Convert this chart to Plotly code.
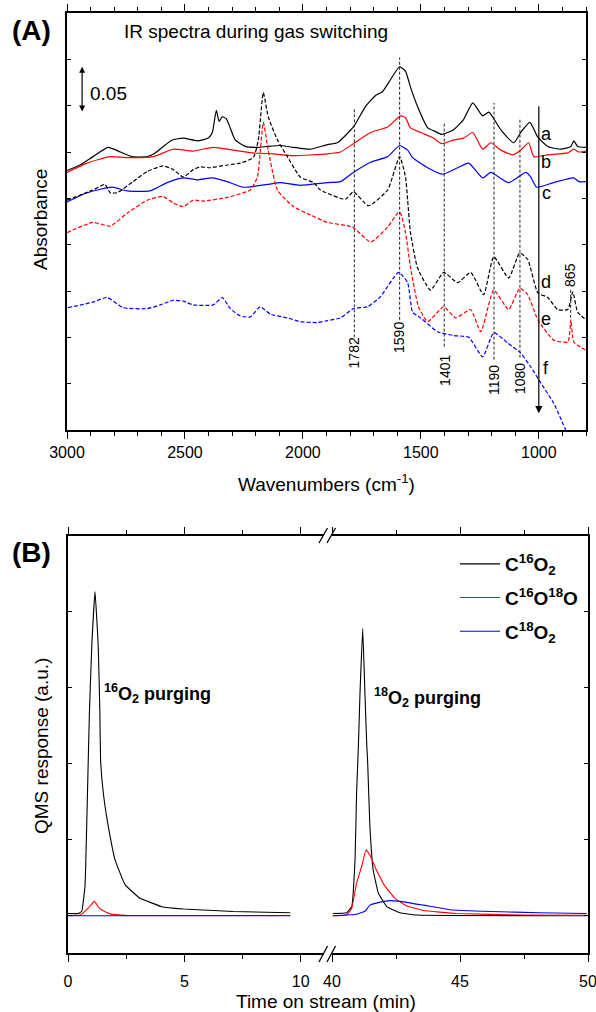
import plotly.graph_objects as go

# ---------------- Panel A data: IR spectra (wavenumber cm-1, absorbance, offset) ----------------
SPEC_A = [(3000,0.280),(2945,0.286),(2890,0.295),(2826,0.305),(2783,0.301),(2724,0.295),(2660,0.295),
          (2626,0.299),(2592,0.306),(2554,0.313),(2507,0.315),(2448,0.312),(2401,0.315),(2384,0.321),
          (2367,0.345),(2355,0.333),(2342,0.338),(2325,0.336),(2308,0.326),(2287,0.313),(2244,0.306),
          (2193,0.305),(2151,0.306),(2096,0.307),(2040,0.305),(1968,0.303),(1896,0.308),(1854,0.310),
          (1786,0.327),(1735,0.349),(1692,0.361),(1663,0.365),(1629,0.378),(1590,0.392),(1565,0.387),
          (1544,0.370),(1514,0.349),(1471,0.326),(1437,0.322),(1412,0.319),(1361,0.324),(1319,0.335),
          (1280,0.353),(1238,0.339),(1212,0.343),(1161,0.324),(1106,0.310),(1077,0.321),(1038,0.332),
          (1004,0.316),(962,0.306),(907,0.303),(864,0.306),(852,0.312),(835,0.306),(800,0.305)]
SPEC_B = [(3000,0.278),(2915,0.288),(2817,0.295),(2745,0.294),(2635,0.295),(2550,0.303),(2465,0.301),
          (2380,0.305),(2295,0.302),(2210,0.299),(2125,0.298),(2040,0.296),(1896,0.298),(1841,0.300),
          (1786,0.309),(1713,0.321),(1641,0.327),(1586,0.339),(1565,0.337),(1544,0.326),(1501,0.321),
          (1446,0.315),(1412,0.309),(1361,0.313),(1319,0.315),(1280,0.321),(1238,0.303),(1204,0.310),
          (1161,0.302),(1111,0.297),(1077,0.302),(1043,0.310),(1021,0.295),(962,0.297),(877,0.299),
          (852,0.303),(830,0.300),(800,0.301)]
SPEC_C = [(3000,0.246),(2915,0.256),(2809,0.262),(2745,0.258),(2648,0.258),(2575,0.267),(2507,0.272),
          (2448,0.270),(2384,0.272),(2321,0.268),(2253,0.262),(2151,0.265),(2096,0.267),(2011,0.264),
          (1896,0.267),(1841,0.268),(1786,0.278),(1713,0.289),(1641,0.295),(1590,0.307),(1556,0.302),
          (1535,0.294),(1471,0.283),(1408,0.276),(1344,0.283),(1297,0.288),(1238,0.272),(1204,0.278),
          (1128,0.267),(1055,0.278),(1034,0.273),(1009,0.262),(937,0.267),(852,0.272),(830,0.268),
          (800,0.268)]
SPEC_D = [(3000,0.248),(2890,0.259),(2839,0.265),(2817,0.256),(2788,0.256),(2720,0.268),(2660,0.279),
          (2592,0.285),(2550,0.281),(2507,0.273),(2465,0.281),(2435,0.284),(2393,0.283),(2321,0.286),
          (2265,0.288),(2210,0.294),(2189,0.313),(2168,0.364),(2147,0.338),(2108,0.313),(2066,0.295),
          (2011,0.273),(1955,0.267),(1926,0.259),(1820,0.249),(1786,0.257),(1722,0.242),(1641,0.259),
          (1590,0.295),(1565,0.273),(1556,0.248),(1544,0.213),(1514,0.175),(1459,0.151),(1403,0.170),
          (1344,0.159),(1289,0.170),(1234,0.146),(1191,0.187),(1128,0.164),(1081,0.191),(1047,0.184),
          (1004,0.148),(962,0.143),(920,0.130),(877,0.130),(856,0.149),(835,0.127),(800,0.119)]
SPEC_E = [(3000,0.213),(2890,0.224),(2817,0.220),(2745,0.234),(2660,0.248),(2592,0.252),(2550,0.245),
          (2507,0.241),(2465,0.248),(2423,0.247),(2321,0.251),(2223,0.259),(2193,0.273),(2168,0.332),
          (2147,0.302),(2108,0.259),(2040,0.241),(1968,0.232),(1896,0.224),(1790,0.219),(1713,0.203),
          (1641,0.219),(1595,0.235),(1586,0.234),(1565,0.213),(1544,0.176),(1510,0.133),(1471,0.117),
          (1403,0.133),(1353,0.121),(1289,0.130),(1246,0.106),(1191,0.151),(1128,0.130),(1081,0.153),
          (1047,0.146),(1004,0.119),(937,0.097),(877,0.095),(864,0.119),(852,0.095),(800,0.086)]
SPEC_F = [(2996,0.132),(2890,0.138),(2830,0.143),(2762,0.132),(2660,0.131),(2605,0.135),(2550,0.140),
          (2507,0.139),(2465,0.135),(2380,0.135),(2342,0.143),(2308,0.131),(2265,0.123),(2223,0.122),
          (2181,0.133),(2138,0.125),(2066,0.121),(2011,0.117),(1939,0.116),(1896,0.118),(1841,0.121),
          (1786,0.131),(1726,0.133),(1671,0.144),(1595,0.170),(1556,0.159),(1535,0.127),(1501,0.121),
          (1429,0.106),(1361,0.102),(1297,0.100),(1238,0.079),(1191,0.105),(1132,0.094),(1077,0.083),
          (1034,0.068),(992,0.051),(937,0.029),(886,0.000)]
SPEC_LETTERS = ["a", "b", "c", "d", "e", "f"]
BANDS = [1782, 1590, 1401, 1190, 1080, 865]
BAND_LABELS = ["1782", "1590", "1401", "1190", "1080", "865"]
SCALE_BAR = 0.05

# ---------------- Panel B data: QMS response (time min, a.u.) ----------------
C16O2_RUN1 = [(0,0.03),(0.45,0.03),(0.59,0.06),(0.73,0.39),(0.87,2.05),(0.92,2.67),(1.02,3.54),
              (1.16,4.27),(1.30,3.54),(1.37,2.67),(1.40,2.05),(1.52,1.61),(1.73,1.18),(2.02,0.74),
              (2.45,0.41),(3.09,0.23),(3.59,0.17),(4.02,0.12),(4.95,0.09),(7.1,0.056),(9.55,0.04)]
C16O18O_RUN1 = [(0,0.003),(0.53,0.01),(0.87,0.10),(1.13,0.19),(1.37,0.09),(1.8,0.025),(2.5,0.005),
                (9.55,0.003)]
C18O2_RUN1 = [(0,0.0),(2.5,0.0),(5.0,0.0),(9.55,0.0)]
C16O2_RUN2 = [(40.03,0.03),(40.57,0.04),(40.77,0.12),(40.9,0.74),(40.96,1.61),(41.03,2.23),(41.09,2.89),
              (41.2,3.78),(41.29,2.89),(41.36,2.23),(41.39,2.05),(41.48,1.18),(41.61,0.6),(41.81,0.3),
              (42.14,0.12),(42.66,0.04),(43.3,0.01),(49.95,0.0)]
C16O18O_RUN2 = [(40.03,0.0),(40.57,0.01),(40.77,0.10),(40.96,0.43),(41.16,0.65),(41.33,0.87),(41.48,0.80),
                (41.74,0.60),(42.07,0.39),(42.46,0.23),(42.92,0.13),(43.57,0.07),(44.87,0.03),(47.5,0.01),
                (49.95,0.005)]
C18O2_RUN2 = [(40.03,0.0),(40.96,0.02),(41.29,0.06),(41.48,0.14),(41.88,0.18),(42.27,0.20),(42.66,0.19),
              (43.57,0.14),(44.6,0.08),(46.2,0.056),(48.1,0.04),(49.95,0.03)]
SPECIES = ["<b>C<sup>16</sup>O<sub>2</sub></b>", "<b>C<sup>16</sup>O<sup>18</sup>O</b>",
           "<b>C<sup>18</sup>O<sub>2</sub></b>"]

# ---------------- styling / layout ----------------
W, H = 596, 1012
FONT = "Arial, Liberation Sans, Helvetica, sans-serif"
def fx(p): return p / W
def fy(p): return 1 - p / H

fig = go.Figure()

spec_styles = [("black", "solid"), ("red", "solid"), ("blue", "solid"),
               ("black", "4px,2px"), ("red", "4px,2px"), ("blue", "4px,2px")]
for data, (col, dash) in zip([SPEC_A, SPEC_B, SPEC_C, SPEC_D, SPEC_E, SPEC_F], spec_styles):
    fig.add_trace(go.Scatter(x=[p[0] for p in data], y=[p[1] for p in data], mode="lines",
                             line=dict(color=col, width=1.2, dash=dash, shape="spline", smoothing=0.5),
                             showlegend=False, xaxis="x", yaxis="y", hoverinfo="skip"))

colors_b = ["black", "red", "blue"]
for i, (r1, r2) in enumerate([(C16O2_RUN1, C16O2_RUN2), (C16O18O_RUN1, C16O18O_RUN2),
                              (C18O2_RUN1, C18O2_RUN2)]):
    fig.add_trace(go.Scatter(x=[p[0] for p in r1], y=[p[1] for p in r1], mode="lines",
                             line=dict(color=colors_b[i], width=1.1, shape="spline", smoothing=0.3),
                             name=SPECIES[i], legendgroup=str(i), showlegend=True,
                             xaxis="x2", yaxis="y2"))
    fig.add_trace(go.Scatter(x=[p[0] for p in r2], y=[p[1] for p in r2], mode="lines",
                             line=dict(color=colors_b[i], width=1.1, shape="spline", smoothing=0.3),
                             name=SPECIES[i], legendgroup=str(i), showlegend=False,
                             xaxis="x3", yaxis="y2"))
fig.add_trace(go.Scatter(x=[45], y=[-10], mode="lines", xaxis="x3", yaxis="y3",
                         showlegend=False, hoverinfo="skip"))

axis_common = dict(showline=True, linecolor="black", linewidth=1.5, showgrid=False, zeroline=False,
                   tickcolor="black", automargin=False,
                   tickfont=dict(size=16, family=FONT, color="black"))

# band line spans (bottom, top, label y) in absorbance units
BAND_SPAN = [(0.100, 0.347, 0.083), (0.119, 0.402, 0.100), (0.090, 0.333, 0.064),
             (0.076, 0.353, 0.054), (0.078, 0.337, 0.056), (0.121, 0.152, 0.167)]
LETTER_Y = [0.319, 0.289, 0.256, 0.160, 0.120, 0.067]

shapes = []
annotations = []
def note(**kw):
    kw.setdefault("showarrow", False)
    kw.setdefault("xanchor", "center")
    kw.setdefault("yanchor", "middle")
    annotations.append(kw)

for b, (y0, y1, ly), lab in zip(BANDS, BAND_SPAN, BAND_LABELS):
    shapes.append(dict(type="line", xref="x", yref="y", x0=b, x1=b, y0=y0, y1=y1,
                       line=dict(color="#222", width=1, dash="3px,2px")))
    note(text=lab, x=b, y=ly, xref="x", yref="y", textangle=-90,
         font=dict(size=14, family=FONT, color="black"))
for let, ly in zip(SPEC_LETTERS, LETTER_Y):
    note(text=let, x=968, y=ly, xref="x", yref="y", font=dict(size=18, family=FONT, color="black"))
# big downward arrow at 1000
note(text="", x=1000, y=0.018, ax=1000, ay=0.351, xref="x", yref="y", axref="x", ayref="y",
     showarrow=True, arrowhead=2, arrowsize=1.2, arrowwidth=1.2, arrowcolor="black")
# scale bar
note(text="", x=2936, y=0.342 + SCALE_BAR, ax=2936, ay=0.342, xref="x", yref="y", axref="x", ayref="y",
     showarrow=True, arrowhead=2, startarrowhead=2, arrowside="end+start", arrowsize=1,
     arrowwidth=1.2, arrowcolor="black")
note(text=str(SCALE_BAR), x=2912, y=0.363, xref="x", yref="y", xanchor="left",
     font=dict(size=19, family=FONT, color="black"))
note(text="IR spectra during gas switching", x=fx(122), y=fy(31), xref="paper", yref="paper",
     xanchor="left", font=dict(size=19, family=FONT, color="black"))
note(text="<b>(A)</b>", x=fx(31), y=fy(30), xref="paper", yref="paper",
     font=dict(size=28, family=FONT, color="black"))
note(text="<b>(B)</b>", x=fx(31), y=fy(552), xref="paper", yref="paper",
     font=dict(size=28, family=FONT, color="black"))
note(text="Absorbance", x=fx(41), y=fy(220), xref="paper", yref="paper", textangle=-90,
     font=dict(size=19, family=FONT, color="black"))
note(text="Wavenumbers (cm<sup>-1</sup>)", x=fx(326), y=fy(483), xref="paper", yref="paper",
     font=dict(size=19, family=FONT, color="black"))
note(text="QMS response (a.u.)", x=fx(41), y=fy(746), xref="paper", yref="paper", textangle=-90,
     font=dict(size=19, family=FONT, color="black"))
note(text="Time on stream (min)", x=fx(326), y=fy(1001), xref="paper", yref="paper",
     font=dict(size=19, family=FONT, color="black"))
note(text="<b><sup>16</sup>O<sub>2</sub> purging</b>", x=1.45, y=2.93, xref="x2", yref="y2",
     xanchor="left", font=dict(size=18, family=FONT, color="black"))
note(text="<b><sup>18</sup>O<sub>2</sub> purging</b>", x=41.55, y=2.88, xref="x3", yref="y2",
     xanchor="left", font=dict(size=18, family=FONT, color="black"))

# axis break marks (//) on panel B, bottom and top
for (yb, yt) in [(962, 946), (543, 528)]:
    for xs in (319, 327):
        shapes.append(dict(type="line", xref="paper", yref="paper", x0=fx(xs), y0=fy(yb),
                           x1=fx(xs + 8.5), y1=fy(yt), line=dict(color="black", width=1.3)))

b_x = dict(ticks="outside", ticklen=7, tickwidth=1.2, tick0=0, dtick=5, mirror="ticks",
           ticklabelstandoff=6, ticklabeloverflow="allow",
           minor=dict(dtick=2.5, ticks="outside", ticklen=4, tickwidth=1, tickcolor="black"))

fig.update_layout(
    width=W, height=H, margin=dict(l=0, r=0, t=0, b=0, pad=0, autoexpand=False),
    paper_bgcolor="white", plot_bgcolor="white",
    font=dict(family=FONT, color="black"),
    xaxis=dict(domain=[fx(67), fx(586)], range=[3000, 800], anchor="y", mirror="ticks",
               ticks="outside", ticklen=7, tickwidth=1.2, tick0=0, dtick=500, ticklabeloverflow="allow",
               minor=dict(dtick=100, ticks="outside", ticklen=4, tickwidth=1, tickcolor="black"),
               **axis_common),
    yaxis=dict(domain=[fy(430), fy(13)], range=[0, 0.45], anchor="x", mirror="ticks",
               ticks="inside", ticklen=4, tickwidth=1, dtick=0.05, showticklabels=False, **axis_common),
    xaxis2=dict(domain=[fx(68), fx(324)], range=[0, 11], anchor="y2", **b_x, **axis_common),
    xaxis3=dict(domain=[fx(332), fx(588)], range=[40, 50], anchor="y2", **b_x, **axis_common),
    yaxis2=dict(domain=[fy(953), fy(536)], range=[-0.49, 5], anchor="x2", ticks="inside",
                ticklen=4, tickwidth=1, tick0=0, dtick=1, showticklabels=False, **axis_common),
    yaxis3=dict(domain=[fy(953), fy(536)], range=[-0.49, 5], anchor="x3", overlaying="y2",
                side="right", ticks="inside", ticklen=4, tickwidth=1, tick0=0, dtick=1,
                showticklabels=False, **axis_common),
    legend=dict(x=fx(455), y=fy(545), xanchor="left", yanchor="top", bgcolor="rgba(0,0,0,0)",
                font=dict(size=19, family=FONT, color="black"), itemwidth=40, tracegroupgap=6),
    shapes=shapes, annotations=annotations,
)

fig.write_html("out.html")
